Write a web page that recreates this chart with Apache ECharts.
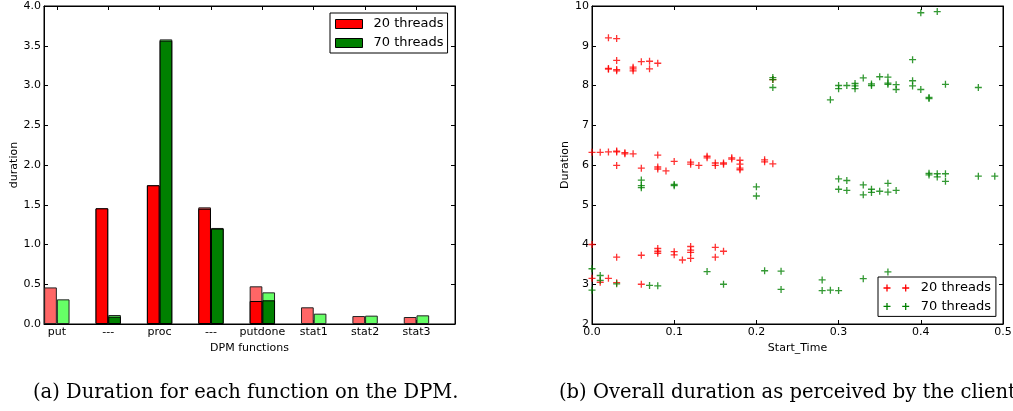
<!DOCTYPE html>
<html><head><meta charset="utf-8">
<script src="https://cdn.jsdelivr.net/npm/echarts@6/dist/echarts.min.js"></script>
<style>html,body{margin:0;padding:0;background:#fff}#c{width:1013px;height:411px}</style>
</head><body><div id="c"></div>
<script>
// ---- left chart: duration per DPM function ----
const functions = ['put','---','proc','---','putdone','stat1','stat2','stat3'];
const funcPositions = [0,1,2,3,4,5,6,7];
const total20 = [0.46,1.455,1.745,1.467,0.474,0.21,0.10,0.088];
const total70 = [0.31,0.113,3.58,1.208,0.398,0.13,0.105,0.109];
const part20 = [null,1.455,1.745,1.45,0.289,null,null,null];
const part70 = [null,0.092,3.564,1.20,0.298,null,null,null];

// ---- right chart: overall duration vs start time ----
const points20 = [
 [0.00,6.32],[0.01,6.32],[0.02,6.33],[0.03,6.35],[0.03,6.33],[0.04,6.31],[0.04,6.28],[0.05,6.28],
 [0.02,9.20],[0.03,9.18],[0.03,8.63],[0.02,8.43],[0.02,8.41],[0.03,8.40],[0.03,8.37],[0.05,8.46],
 [0.05,8.42],[0.05,8.37],[0.06,8.60],[0.07,8.61],[0.07,8.42],[0.08,8.56],
 [0.03,5.99],[0.06,5.92],[0.08,6.25],[0.08,5.95],[0.08,5.90],[0.09,5.85],[0.10,6.09],[0.12,6.07],
 [0.12,6.02],[0.13,5.99],[0.14,6.22],[0.14,6.18],[0.15,6.05],[0.15,5.99],[0.16,6.05],[0.16,6.02],
 [0.17,6.18],[0.17,6.15],[0.18,6.12],[0.18,6.02],[0.18,5.92],[0.18,5.88],[0.21,6.13],[0.21,6.08],
 [0.22,6.03],[0.22,8.15],
 [0.00,4.00],[0.00,3.15],[0.01,3.05],[0.02,3.15],[0.03,3.68],[0.03,3.04],[0.06,3.73],[0.06,3.00],
 [0.08,3.90],[0.08,3.83],[0.08,3.78],[0.10,3.82],[0.10,3.74],[0.11,3.61],[0.12,3.95],[0.12,3.86],
 [0.12,3.80],[0.12,3.65],[0.15,3.93],[0.15,3.68],[0.16,3.83]
];
const points70 = [
 [0.00,3.39],[0.00,2.85],[0.01,3.22],[0.01,3.10],[0.03,3.01],[0.07,2.97],[0.08,2.96],[0.14,3.32],
 [0.16,3.00],[0.21,3.34],[0.23,3.33],[0.23,2.87],[0.28,3.11],[0.28,2.84],[0.29,2.85],[0.30,2.84],
 [0.33,3.14],[0.36,3.31],
 [0.06,5.62],[0.06,5.48],[0.06,5.43],[0.10,5.51],[0.10,5.48],[0.20,5.45],[0.20,5.22],[0.30,5.65],
 [0.30,5.39],[0.31,5.61],[0.31,5.36],[0.33,5.50],[0.33,5.25],[0.34,5.39],[0.34,5.31],[0.35,5.34],
 [0.36,5.54],[0.36,5.32],[0.37,5.36],[0.41,5.79],[0.41,5.75],[0.42,5.78],[0.42,5.70],[0.43,5.78],
 [0.43,5.59],[0.47,5.72],[0.49,5.72],
 [0.22,8.20],[0.22,8.15],[0.22,7.95],[0.29,7.64],[0.30,8.00],[0.30,7.92],[0.31,8.00],[0.32,8.05],
 [0.32,7.99],[0.32,7.92],[0.33,8.19],[0.34,8.04],[0.34,8.00],[0.35,8.22],[0.36,8.21],[0.36,8.06],
 [0.36,8.03],[0.37,8.02],[0.37,7.90],[0.39,8.65],[0.39,8.12],[0.39,7.99],[0.40,9.83],[0.40,7.90],
 [0.41,7.70],[0.41,7.67],[0.42,9.86],[0.43,8.03],[0.47,7.95]
];

const FONT = 'DejaVu Sans';
const PLUS = 'path://M2.85,0h1.3v2.85h2.85v1.3h-2.85v2.85h-1.3v-2.85h-2.85v-1.3h2.85z';
const PLUS2 = 'path://M2.85,0h1.3v2.85h2.85v1.3h-2.85v2.85h-1.3v-2.85h-2.85v-1.3h2.85zM21.55,0h1.3v2.85h2.85v1.3h-2.85v2.85h-1.3v-2.85h-2.85v-1.3h2.85z';

const pairs = (vals) => funcPositions.map((p, i) => vals[i] == null ? null : [p, vals[i]]).filter(Boolean);

const lbl = {color:'#000', fontFamily:FONT, fontSize:11};
const axLine = {show:true, onZero:false, lineStyle:{color:'#000', width:1}};
const tick = {show:true, inside:true, length:4, lineStyle:{color:'#000', width:1}};
const capStyle = {fontFamily:'DejaVu Serif', fontSize:19.5, fontWeight:'normal', color:'#000'};

const chart = echarts.init(document.getElementById('c'), null, {renderer:'canvas'});
chart.setOption({
  animation:false,
  backgroundColor:'#fff',
  title:[
    {text:'(a) Duration for each function on the DPM.', left:33, top:383, padding:0, textStyle:capStyle},
    {text:'(b) Overall duration as perceived by the client.', left:559, top:383, padding:0, textStyle:capStyle}
  ],
  grid:[
    {left:44, top:6, width:411, height:318, show:true, borderColor:'#000', borderWidth:1, containLabel:false, outerBoundsMode:'none'},
    {left:592, top:6, width:411, height:318, show:true, borderColor:'#000', borderWidth:1, containLabel:false, outerBoundsMode:'none'}
  ],
  legend:[
    {left:330, top:13, orient:'vertical', itemWidth:27, itemHeight:9, itemGap:3,
     padding:[3,4,2,5], borderColor:'#000', borderWidth:1, backgroundColor:'#fff',
     selectedMode:false,
     textStyle:{color:'#000', fontFamily:FONT, fontSize:13, lineHeight:16, padding:[0,0,0,6]},
     data:[
       {name:'20 threads', icon:'rect', itemStyle:{color:'#ff0000', borderColor:'#000', borderWidth:1}},
       {name:'70 threads', icon:'rect', itemStyle:{color:'#008000', borderColor:'#000', borderWidth:1}}
     ]},
    {left:878, top:277, orient:'vertical', itemWidth:26, itemHeight:7, itemGap:2.4,
     padding:[3,5,2,5.5], borderColor:'#000', borderWidth:1, backgroundColor:'#fff',
     selectedMode:false,
     textStyle:{color:'#000', fontFamily:FONT, fontSize:13, lineHeight:16, padding:[0,0,0,6.5]},
     data:[
       {name:'20 threads', icon:PLUS2, itemStyle:{color:'#ff0000', borderWidth:0}},
       {name:'70 threads', icon:PLUS2, itemStyle:{color:'#008000', borderWidth:0}}
     ]}
  ],
  xAxis:[
    {type:'value', gridIndex:0, min:-0.25, max:7.75, position:'bottom',
     axisLine:axLine, splitLine:{show:false},
     axisTick:Object.assign({customValues:funcPositions}, tick),
     axisLabel:Object.assign({customValues:funcPositions, margin:3, formatter:(v)=>functions[Math.round(v)]}, lbl),
     name:'DPM functions', nameLocation:'middle', nameGap:17, nameTextStyle:lbl},
    {type:'value', gridIndex:0, min:-0.25, max:7.75, show:false, splitLine:{show:false}},
    {type:'value', gridIndex:0, min:-0.25, max:7.75, position:'top',
     axisLine:axLine, splitLine:{show:false},
     axisTick:Object.assign({customValues:funcPositions}, tick), axisLabel:{show:false}},
    {type:'value', gridIndex:1, min:0, max:0.5, interval:0.1, position:'bottom',
     axisLine:axLine, splitLine:{show:false}, axisTick:tick,
     axisLabel:Object.assign({margin:3, formatter:(v)=>v.toFixed(1)}, lbl),
     name:'Start_Time', nameLocation:'middle', nameGap:15, nameTextStyle:lbl},
    {type:'value', gridIndex:1, min:0, max:0.5, interval:0.1, position:'top',
     axisLine:axLine, splitLine:{show:false}, axisTick:tick, axisLabel:{show:false}}
  ],
  yAxis:[
    {type:'value', gridIndex:0, min:0, max:4, interval:0.5, position:'left',
     axisLine:axLine, splitLine:{show:false}, axisTick:tick,
     axisLabel:Object.assign({margin:3, formatter:(v)=>v.toFixed(1)}, lbl),
     name:'duration', nameLocation:'middle', nameGap:20, nameRotate:90, nameTextStyle:lbl},
    {type:'value', gridIndex:0, min:0, max:4, interval:0.5, position:'right',
     axisLine:axLine, splitLine:{show:false}, axisTick:tick, axisLabel:{show:false}},
    {type:'value', gridIndex:1, min:2, max:10, interval:1, position:'left',
     axisLine:axLine, splitLine:{show:false}, axisTick:tick,
     axisLabel:Object.assign({margin:3}, lbl),
     name:'Duration', nameLocation:'middle', nameGap:17, nameRotate:90, nameTextStyle:lbl},
    {type:'value', gridIndex:1, min:2, max:10, interval:1, position:'right',
     axisLine:axLine, splitLine:{show:false}, axisTick:tick, axisLabel:{show:false}}
  ],
  series:[
    {name:'20 threads (total)', type:'bar', xAxisIndex:0, yAxisIndex:0, barWidth:12.7, barGap:0,
     data:pairs(total20), itemStyle:{color:'#ff6666', borderColor:'#222', borderWidth:1}, z:2},
    {name:'70 threads (total)', type:'bar', xAxisIndex:0, yAxisIndex:0, barWidth:12.7, barGap:0,
     data:pairs(total70), itemStyle:{color:'#66ff66', borderColor:'#222', borderWidth:1}, z:2},
    {name:'20 threads', type:'bar', xAxisIndex:1, yAxisIndex:0, barWidth:12.7, barGap:0,
     data:pairs(part20), itemStyle:{color:'#ff0000', borderColor:'#000', borderWidth:1}, z:3},
    {name:'70 threads', type:'bar', xAxisIndex:1, yAxisIndex:0, barWidth:12.7, barGap:0,
     data:pairs(part70), itemStyle:{color:'#008000', borderColor:'#000', borderWidth:1}, z:3},
    {name:'20 threads', type:'scatter', xAxisIndex:3, yAxisIndex:2, symbol:PLUS, symbolSize:7,
     data:points20, itemStyle:{color:'#ff0000', borderWidth:0}, clip:true, z:3},
    {name:'70 threads', type:'scatter', xAxisIndex:3, yAxisIndex:2, symbol:PLUS, symbolSize:7,
     data:points70, itemStyle:{color:'#008000', borderWidth:0}, clip:true, z:4}
  ]
});
</script></body></html>
